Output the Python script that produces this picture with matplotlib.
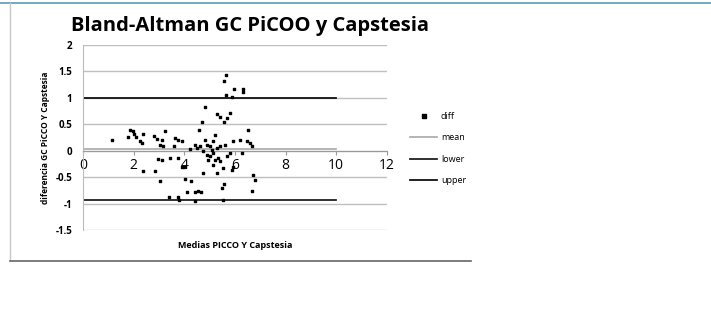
import matplotlib.pyplot as plt
import numpy as np
from matplotlib.lines import Line2D

# data
x_means = [5.63, 5.57, 5.97, 6.3, 6.3, 5.63, 5.87, 4.82, 5.28, 5.41, 5.80, 5.67, 5.57,
           4.71, 4.59, 6.53, 1.13, 1.86, 1.96, 1.99, 1.79, 2.09, 2.25, 2.38, 2.32,
           2.80, 2.91, 3.24, 3.11, 3.04, 3.15, 3.63, 3.76, 3.90, 3.60, 2.36, 2.84, 3.04,
           2.97, 3.11, 3.43, 3.76, 3.90, 4.00, 4.03, 4.26, 4.09, 4.42, 4.55, 4.65,
           3.41, 3.76, 3.79, 4.42, 5.54, 4.75, 5.14, 5.28, 5.57, 5.50, 6.72, 6.79, 6.66,
           4.82, 5.14, 5.21, 4.88, 5.01, 4.62, 4.49, 5.08, 5.28, 5.41, 5.61, 4.88, 5.01,
           5.14, 5.34, 5.41, 5.67, 5.80, 5.93, 4.75, 4.95, 5.21, 4.22, 4.42,
           5.93, 6.20, 6.26, 6.46, 6.59, 6.66, 5.54, 5.87]
diffs = [1.44, 1.31, 1.16, 1.16, 1.11, 1.06, 1.02, 0.82, 0.70, 0.64, 0.71, 0.62, 0.55,
         0.55, 0.40, 0.40, 0.20, 0.40, 0.37, 0.32, 0.26, 0.26, 0.18, 0.32, 0.15,
         0.28, 0.22, 0.37, 0.21, 0.11, 0.08, 0.24, 0.21, 0.18, 0.08, -0.39, -0.39, -0.58,
         -0.16, -0.17, -0.14, -0.14, -0.30, -0.31, -0.54, -0.58, -0.79, -0.79, -0.77, -0.79,
         -0.87, -0.87, -0.93, -0.96, -0.94, -0.42, -0.28, -0.42, -0.64, -0.70, -0.47, -0.56, -0.77,
         0.21, 0.18, 0.30, 0.11, 0.08, 0.08, 0.05, 0.02, 0.05, 0.08, 0.11, -0.08, -0.11,
         -0.04, -0.14, -0.20, -0.11, -0.04, -0.30, -0.01, -0.17, -0.17, 0.03, 0.11,
         0.18, 0.21, -0.04, 0.18, 0.15, 0.09, -0.33, -0.36]

mean_diff = 0.04
lower = -0.93
upper = 1.0
line_x = [0, 10]

x_ticks = [0, 2, 4, 6, 8, 10, 12]
y_ticks = [-1.5, -1, -0.5, 0, 0.5, 1, 1.5, 2]

plt.rcParams['font.family'] = ['Open Sans', 'DejaVu Sans']

fig = plt.figure(figsize=(7.11, 3.12), dpi=100)

# frame lines of the screenshot
fig.add_artist(Line2D([0.0, 1.0], [0.99, 0.99], color='#5a9bb5', lw=1.2))
fig.add_artist(Line2D([0.014, 0.014], [0.163, 0.99], color='#c8c8c8', lw=1.0))
fig.add_artist(Line2D([0.014, 0.662], [0.163, 0.163], color='#666666', lw=1.2))

ax = fig.add_axes([0.117, 0.263, 0.427, 0.593])

for yv in y_ticks:
    ax.axhline(yv, color='#c0c0c0', lw=1.0, zorder=0)

ax.plot(line_x, [mean_diff, mean_diff], color='#a8a8a8', lw=1.2, label='mean')
ax.plot(line_x, [lower, lower], color='#202020', lw=1.3, label='lower')
ax.plot(line_x, [upper, upper], color='#101010', lw=1.3, label='upper')
ax.scatter(x_means, diffs, s=3, color='black', marker='s', label='diff', zorder=3)

ax.set_xlim(0, 12)
ax.set_ylim(-1.5, 2)
ax.set_xticks(x_ticks)
ax.set_yticks(y_ticks)
ax.set_yticklabels([str(v) for v in y_ticks], fontsize=7, fontweight='bold')
ax.set_xticklabels([str(v) for v in x_ticks], fontsize=7, fontweight='bold')

ax.spines['top'].set_visible(False)
ax.spines['right'].set_visible(False)
ax.spines['bottom'].set_position(('data', 0))
ax.spines['bottom'].set_color('#999999')
ax.spines['left'].set_color('#bbbbbb')
ax.tick_params(axis='x', length=3, color='#999999', pad=2)
ax.tick_params(axis='y', length=0, pad=8)

ax.set_title('Bland-Altman GC PiCOO y Capstesia', fontsize=14.5, fontweight='bold',
             pad=10, x=0.55)
ax.set_xlabel('Medias PICCO Y Capstesia', fontsize=6.5, fontweight='bold', labelpad=2)
ax.xaxis.set_label_coords(0.5, -0.06)
ax.set_ylabel('diferencia GC PiCCO Y Capstesia', fontsize=6, fontweight='bold', labelpad=4)

handles, labels = ax.get_legend_handles_labels()
order = [3, 0, 1, 2]
ax.legend([handles[i] for i in order], [labels[i] for i in order],
          loc='center left', bbox_to_anchor=(1.05, 0.44), frameon=False,
          fontsize=6.5, handlelength=3, labelspacing=1.4, handletextpad=0.4,
          markerscale=1.3)

plt.savefig('out.png', dpi=100)
